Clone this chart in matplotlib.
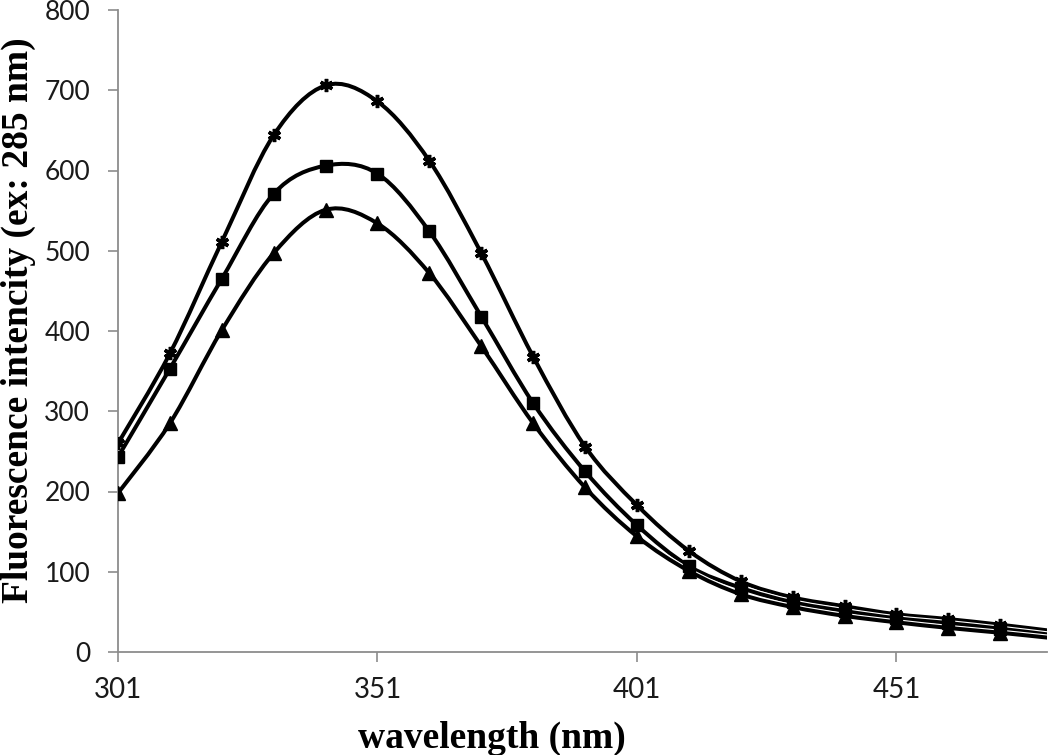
import matplotlib
matplotlib.use("Agg")
import matplotlib.pyplot as plt
from matplotlib.path import Path
from matplotlib.patches import PathPatch
import matplotlib.patheffects as pe

# ---- data ----
wavelength = [301, 311, 321, 331, 341, 351, 361, 371, 381, 391, 401,
              411, 421, 431, 441, 451, 461, 471, 480]
series_star = [260, 372, 511, 644, 706, 686, 612, 497, 368, 256, 183,
               126, 88, 68, 57, 47, 41, 34, 27]
series_square = [243, 353, 465, 571, 606, 596, 524, 418, 310, 225, 158,
                 107, 80, 62, 51, 42, 36, 29, 22]
series_triangle = [198, 285, 401, 497, 551, 534, 472, 381, 285, 205, 144,
                   101, 72, 56, 45, 37, 30, 24, 18]
marker_count = 18  # markers drawn on the first 18 points (301..471)

x_ticks = [301, 351, 401, 451]
y_ticks = [0, 100, 200, 300, 400, 500, 600, 700, 800]

fig = plt.figure(figsize=(10.5, 7.55), dpi=100)
ax = fig.add_axes([118 / 1050, 1 - 652 / 755, (1047 - 118) / 1050, (652 - 10) / 755])


def smooth_path(xs, ys):
    """Catmull-Rom style Bezier path (like a spreadsheet 'smoothed line')."""
    n = len(xs)
    verts = [(xs[0], ys[0])]
    codes = [Path.MOVETO]
    for i in range(n - 1):
        x0, y0 = (xs[i - 1], ys[i - 1]) if i > 0 else (xs[i], ys[i])
        x1, y1 = xs[i], ys[i]
        x2, y2 = xs[i + 1], ys[i + 1]
        x3, y3 = (xs[i + 2], ys[i + 2]) if i + 2 < n else (x2, y2)
        c1 = (x1 + (x2 - x0) / 6.0, y1 + (y2 - y0) / 6.0)
        c2 = (x2 - (x3 - x1) / 6.0, y2 - (y3 - y1) / 6.0)
        verts += [c1, c2, (x2, y2)]
        codes += [Path.CURVE4] * 3
    return Path(verts, codes)


line_w = 2.9
styles = [
    (series_star, dict(marker=(6, 2, 0), markersize=9.5, markeredgewidth=2.5)),
    (series_square, dict(marker='s', markersize=8)),
    (series_triangle, dict(marker='^', markersize=9.5)),
]

for ys, mk in styles:
    patch = PathPatch(smooth_path(wavelength, ys), facecolor='none',
                      edgecolor='black', linewidth=line_w, zorder=3,
                      capstyle='round', joinstyle='round')
    patch.set_path_effects([pe.Stroke(linewidth=line_w + 1.6, foreground='white'),
                            pe.Normal()])
    ax.add_patch(patch)
    ax.plot(wavelength[:marker_count], ys[:marker_count], linestyle='none',
            color='black', markerfacecolor='black', markeredgecolor='black',
            zorder=4, **mk)

ax.set_xlim(301, 480)
ax.set_ylim(0, 800)
ax.set_xticks(x_ticks)
ax.set_yticks(y_ticks)
ax.set_xticklabels([str(v) for v in x_ticks])
ax.set_yticklabels([str(v) for v in y_ticks])

for s in ['top', 'right']:
    ax.spines[s].set_visible(False)
for s in ['left', 'bottom']:
    ax.spines[s].set_color('#8c8c8c')
    ax.spines[s].set_linewidth(1.3)

tick_font = ['Lato', 'DejaVu Sans']
ax.tick_params(axis='y', direction='out', length=7, width=1.2, color='#8c8c8c',
               pad=13, labelsize=19, labelcolor='#1a1a1a')
ax.tick_params(axis='x', direction='out', length=7, width=1.2, color='#8c8c8c',
               pad=11, labelsize=20, labelcolor='#1a1a1a')
for lab in ax.get_xticklabels() + ax.get_yticklabels():
    lab.set_family(tick_font)

label_font = ['Liberation Serif', 'DejaVu Serif']
fig.text(492 / 1050, 1 - 748 / 755, 'wavelength (nm)', ha='center', va='baseline',
         fontsize=27, fontweight='bold', family=label_font)
fig.text(18 / 1050, 1 - 320 / 755, 'Fluorescence intencity (ex: 285 nm)',
         ha='center', va='center', rotation=90, fontsize=27, fontweight='bold',
         family=label_font)

fig.savefig('out.png', dpi=100)
